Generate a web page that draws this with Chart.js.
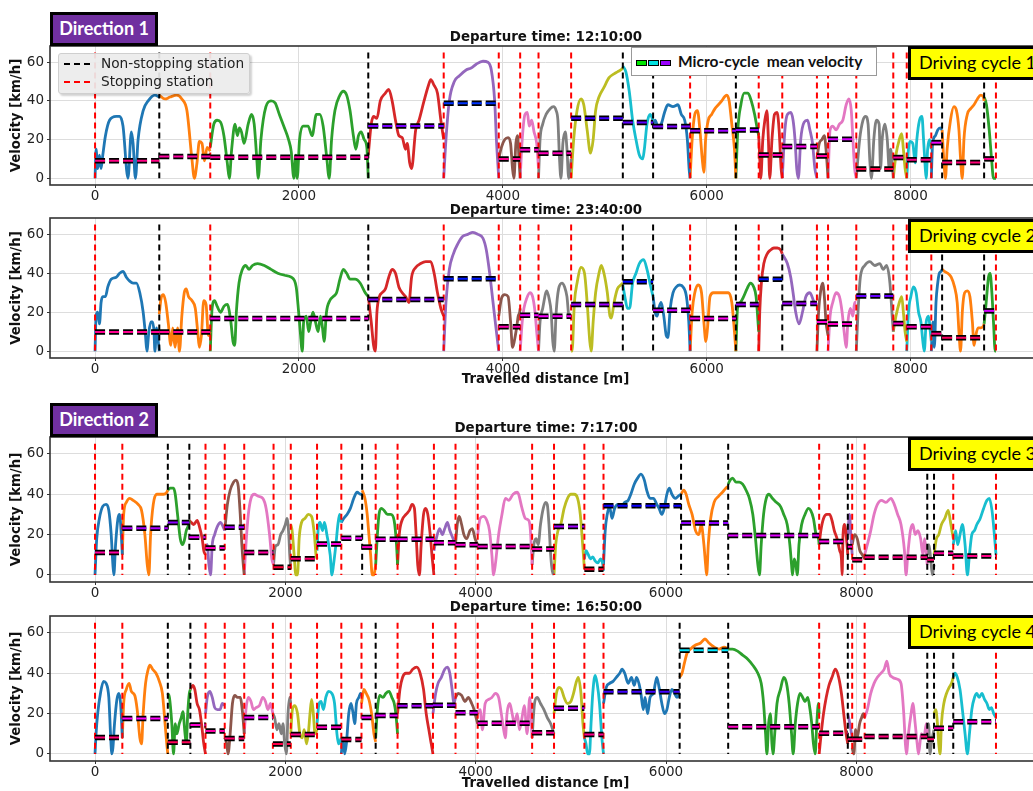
<!DOCTYPE html>
<html>
<head>
<meta charset="utf-8">
<script src="https://cdn.jsdelivr.net/npm/chart.js@4.4.1/dist/chart.umd.min.js"></script>
<style>
  html, body { margin: 0; padding: 0; background: #fff; width: 1033px; height: 791px; overflow: hidden; }
  .panel { position: absolute; left: 0; }
  .ttl { position: absolute; left: 346px; width: 400px; text-align: center; font: bold 13.4px "DejaVu Sans"; color: #111; line-height: 16px; }
  .dir { position: absolute; left: 50px; width: 108px; height: 34px; box-sizing: border-box; border: 3px solid #000;
         background: #7030a0; color: #fff; font: bold 18px Lato; text-align: center; line-height: 27px; }
  .dc { position: absolute; left: 908px; width: 150px; height: 34px; box-sizing: border-box; border: 3px solid #000;
        background: #ffff00; color: #000; font: 18px Lato; line-height: 27px; padding-left: 8px; }
  .leg1 { position: absolute; left: 58px; top: 53px; width: 192px; height: 41px; box-sizing: border-box;
          background: rgba(236,236,236,0.92); border: 1px solid #cfcfcf; border-radius: 3px; box-shadow: 2px 2px 2px rgba(0,0,0,0.18); }
  .leg1 svg { position: absolute; left: 3px; }
  .leg1 span { position: absolute; left: 42px; font: 13.7px "DejaVu Sans"; color: #222; line-height: 16px; }
  .leg2 { position: absolute; left: 631px; top: 47px; width: 246px; height: 29px; box-sizing: border-box;
          background: #fff; border: 1px solid #999; }
  .leg2 i { position: absolute; top: 12px; width: 9px; height: 4px; border: 1.5px solid #000; }
  .leg2 span { position: absolute; left: 46px; top: 4px; font: bold 15.5px Lato; color: #111; line-height: 18px; white-space: nowrap; }
</style>
</head>
<body>
<div class="panel" id="p1" style="top:40px"><canvas id="c1" width="1045" height="165"></canvas></div>
<div class="panel" id="p2" style="top:212px"><canvas id="c2" width="1045" height="178"></canvas></div>
<div class="panel" id="p3" style="top:430px"><canvas id="c3" width="1045" height="172"></canvas></div>
<div class="panel" id="p4" style="top:609px"><canvas id="c4" width="1045" height="185"></canvas></div>

<div class="ttl" style="top:29px">Departure time: 12:10:00</div>
<div class="ttl" style="top:202px">Departure time: 23:40:00</div>
<div class="ttl" style="top:420px">Departure time: 7:17:00</div>
<div class="ttl" style="top:599px">Departure time: 16:50:00</div>

<div class="dir" style="top:12px">Direction 1</div>
<div class="dir" style="top:403px">Direction 2</div>

<div class="dc" style="top:46px">Driving cycle 1</div>
<div class="dc" style="top:219px">Driving cycle 2</div>
<div class="dc" style="top:437px">Driving cycle 3</div>
<div class="dc" style="top:615px">Driving cycle 4</div>

<div class="leg1">
  <svg width="34" height="40" style="top:0">
    <line x1="2" y1="10" x2="31" y2="10" stroke="#000" stroke-width="2" stroke-dasharray="6,4"/>
    <line x1="2" y1="28" x2="31" y2="28" stroke="#ff0000" stroke-width="2" stroke-dasharray="6,4"/>
  </svg>
  <span style="top:1px">Non-stopping station</span>
  <span style="top:19px">Stopping station</span>
</div>
<div class="leg2">
  <i style="left:4px;background:#00e600"></i>
  <i style="left:16px;background:#00e0e0"></i>
  <i style="left:28px;background:#9a00ff"></i>
  <span>Micro-cycle&nbsp; mean velocity</span>
</div>

<script>
// axis ticks
const xTicks = [0, 2000, 4000, 6000, 8000];
const yTicks = [0, 20, 40, 60];

// ---------- Driving cycle 1 (Direction 1, 12:10:00) ----------
const stations1 = [0, 630, 1130, 2680, 3420, 3960, 4170, 4350, 4670, 5177, 5474, 5837, 6286, 6510, 6741, 7081, 7190, 7467, 7830, 7962, 8203, 8309, 8721, 8837];
const stationTypes1 = ['S','N','S','N','S','S','S','S','S','N','N','S','N','S','S','S','S','S','S','S','S','N','N','S'];
const means1 = [9.1, 11.2, 10.9, 27, 38.8, 10, 14.7, 12.9, 31, 28.8, 26.7, 24.5, 25, 12, 16.4, 11.5, 20.2, 4.8, 10.7, 9.5, 18.4, 8.1, 10];
const speed1 = [
  [[0,0],[10,15],[26,5],[43,12],[59,5],[76,12],[102,22],[142,30],[208,32],[241,32],[274,27],[323,0],[356,24],[373,18],[396,0],[422,20],[472,35],[521,40],[587,43],[630,42]],
  [[630,43],[686,41],[736,42],[802,43],[851,41],[901,35],[950,10],[974,0],[1000,8],[1023,19],[1049,18],[1073,9],[1099,16],[1130,14]],
  [[1130,16],[1165,28],[1198,30],[1231,29],[1264,22],[1297,8],[1317,0],[1340,15],[1373,28],[1396,22],[1416,26],[1436,24],[1462,18],[1502,28],[1535,33],[1561,28],[1584,12],[1601,0],[1627,20],[1676,37],[1726,40],[1766,39],[1808,33],[1858,26],[1898,20],[1924,14],[1950,0],[1970,12],[1983,0],[2006,20],[2039,27],[2089,27],[2129,22],[2171,33],[2204,33],[2237,27],[2270,12],[2297,0],[2320,20],[2353,35],[2402,43],[2435,45],[2468,43],[2501,35],[2534,22],[2558,15],[2584,22],[2610,24],[2640,20],[2666,16],[2680,0]],
  [[2680,12],[2709,28],[2732,32],[2765,31],[2798,40],[2848,44],[2881,46],[2914,40],[2947,30],[2980,22],[3013,21],[3046,15],[3062,18],[3086,8],[3105,5],[3145,25],[3178,30],[3227,40],[3270,48],[3293,51],[3326,48],[3359,44],[3392,30],[3420,20]],
  [[3420,0],[3442,20],[3475,40],[3524,50],[3574,53],[3640,56],[3689,57],[3739,59],[3805,60.5],[3854,60],[3887,56],[3920,40],[3937,20],[3960,0]],
  [[3960,10],[3986,16],[4019,20],[4052,21],[4076,18],[4095,5],[4109,0],[4128,18],[4145,22],[4158,10],[4170,0]],
  [[4170,0],[4190,20],[4217,33],[4240,34],[4259,27],[4283,30],[4306,24],[4332,18],[4350,5]],
  [[4350,0],[4365,20],[4391,28],[4424,33],[4464,36],[4497,37],[4523,35],[4540,30],[4556,10],[4570,0],[4589,18],[4613,24],[4629,15],[4646,0],[4670,10]],
  [[4670,0],[4695,20],[4728,35],[4768,41],[4794,38],[4827,25],[4860,13],[4886,20],[4910,35],[4943,42],[4992,47],[5042,52],[5091,54],[5124,55],[5157,56],[5177,57]],
  [[5177,58],[5207,55],[5240,45],[5273,30],[5306,20],[5339,12],[5372,10],[5388,15],[5414,28],[5444,33],[5474,30]],
  [[5474,28],[5494,30],[5520,27],[5553,28],[5586,34],[5619,38],[5669,37],[5718,38],[5751,33],[5784,30],[5810,20],[5827,5],[5837,0]],
  [[5837,0],[5857,20],[5883,33],[5909,35],[5933,25],[5956,10],[5972,3],[5989,20],[6015,30],[6048,33],[6081,36],[6114,38],[6147,40],[6173,42],[6197,43],[6220,40],[6246,28],[6272,15],[6286,0]],
  [[6286,0],[6305,25],[6335,38],[6368,44],[6404,44],[6437,40],[6470,33],[6494,26],[6510,22]],
  [[6510,22],[6522,8],[6530,0],[6550,20],[6570,30],[6590,35],[6605,20],[6618,0],[6640,20],[6665,33],[6690,34],[6710,25],[6730,5],[6741,0]],
  [[6741,0],[6767,25],[6791,33],[6824,34],[6847,30],[6866,20],[6883,5],[6899,0],[6922,20],[6956,29],[6989,30],[7012,25],[7038,18],[7061,5],[7081,0]],
  [[7081,10],[7104,18],[7130,20],[7154,22],[7170,15],[7190,0]],
  [[7190,0],[7210,25],[7236,27],[7269,25],[7302,28],[7335,30],[7368,38],[7394,41],[7418,35],[7434,20],[7451,5],[7467,0]],
  [[7467,0],[7500,20],[7533,30],[7559,32],[7583,28],[7599,10],[7616,0],[7639,20],[7665,30],[7691,28],[7705,5],[7721,20],[7748,28],[7771,20],[7790,5],[7804,15],[7823,5],[7830,0]],
  [[7830,0],[7856,12],[7889,20],[7913,23],[7929,15],[7946,5],[7962,0]],
  [[7962,0],[7979,15],[7995,19],[8021,18],[8045,8],[8061,20],[8087,30],[8111,32],[8127,20],[8144,5],[8153,0],[8167,15],[8186,20],[8203,15]],
  [[8203,0],[8216,18],[8243,22],[8266,25],[8292,26],[8309,25]],
  [[8309,25],[8325,10],[8342,0],[8358,15],[8391,30],[8424,37],[8450,35],[8474,25],[8490,10],[8507,0],[8523,20],[8556,33],[8589,36],[8622,38],[8655,41],[8688,43],[8714,42],[8721,40]],
  [[8721,42],[8744,38],[8771,25],[8794,10],[8813,0],[8837,0]]
];

// ---------- Driving cycle 2 (Direction 1, 23:40:00) ----------
const stations2 = [0, 630, 1130, 2680, 3420, 3960, 4170, 4350, 4670, 5177, 5474, 5837, 6286, 6510, 6741, 7081, 7190, 7467, 7830, 7962, 8203, 8309, 8721, 8837];
const stationTypes2 = ['S','N','S','N','S','S','S','S','S','N','N','S','N','S','N','S','S','S','S','S','S','N','N','S'];
const means2 = [9.9, 9.9, 16.8, 26.6, 37.2, 12.5, 18.5, 18, 24, 35.7, 21, 16.8, 24, 36.9, 24.5, 15, 13.9, 28.3, 14.2, 12.5, 9, 6.9, 20.7];
const speed2 = [
  [[0,0],[10,18],[26,20],[43,14],[59,25],[76,28],[102,28],[125,33],[158,37],[208,38],[241,40],[274,41],[307,38],[340,36],[373,35],[406,35],[439,30],[472,20],[495,8],[508,0],[528,10],[548,15],[564,15],[578,10],[587,0],[604,12],[620,5],[630,0]],
  [[630,19],[647,27],[670,29],[693,25],[719,14],[743,3],[762,12],[785,2],[809,12],[828,0],[851,18],[875,30],[894,32],[917,28],[950,26],[983,22],[1007,10],[1023,2],[1043,8],[1066,26],[1089,24],[1112,8],[1130,10]],
  [[1130,0],[1148,22],[1172,26],[1198,23],[1231,20],[1264,23],[1297,24],[1330,16],[1353,5],[1370,3],[1386,20],[1412,35],[1445,42],[1478,44],[1511,42],[1544,44],[1594,45],[1660,44],[1726,42],[1792,40],[1858,39],[1924,38],[1973,33],[1997,20],[2013,10],[2033,0],[2046,15],[2072,18],[2096,10],[2115,15],[2138,20],[2162,15],[2188,10],[2211,18],[2231,12],[2247,5],[2270,20],[2303,26],[2336,28],[2369,30],[2402,37],[2435,42],[2468,40],[2501,37],[2551,37],[2600,35],[2650,30],[2680,28]],
  [[2680,28],[2709,15],[2732,3],[2749,0],[2765,20],[2789,28],[2815,30],[2848,32],[2881,38],[2914,42],[2947,40],[2980,33],[3013,30],[3046,28],[3079,25],[3105,38],[3145,43],[3194,45],[3244,46],[3293,46],[3326,40],[3359,30],[3392,22],[3420,18]],
  [[3420,0],[3442,25],[3475,42],[3515,50],[3557,55],[3607,59],[3656,60],[3706,61],[3755,60],[3805,58],[3838,52],[3871,40],[3904,25],[3937,10],[3960,0]],
  [[3960,18],[3986,27],[4019,29],[4052,28],[4076,15],[4095,2],[4112,5],[4135,12],[4151,18],[4165,20],[4170,22]],
  [[4170,0],[4190,15],[4207,22],[4233,27],[4266,30],[4292,28],[4316,20],[4332,10],[4350,0]],
  [[4350,0],[4365,15],[4391,22],[4431,31],[4454,27],[4474,20],[4490,5],[4504,0],[4523,20],[4547,32],[4580,35],[4606,33],[4629,28],[4649,18],[4670,19]],
  [[4670,0],[4679,0],[4702,25],[4728,35],[4768,43],[4801,40],[4827,25],[4853,5],[4867,0],[4886,15],[4910,30],[4943,40],[4966,44],[4992,40],[5025,30],[5051,18],[5065,17],[5091,25],[5124,32],[5157,34],[5177,35]],
  [[5177,34],[5197,28],[5223,22],[5243,22],[5273,35],[5306,40],[5339,45],[5381,47],[5414,42],[5447,34],[5474,28]],
  [[5474,28],[5494,20],[5513,18],[5530,22],[5553,25],[5579,18],[5603,8],[5619,7],[5642,22],[5669,30],[5702,33],[5735,34],[5768,33],[5801,28],[5824,15],[5837,0]],
  [[5837,0],[5857,20],[5883,30],[5916,34],[5949,30],[5972,15],[5992,5],[6008,12],[6032,28],[6065,30],[6114,30],[6164,30],[6213,30],[6246,25],[6272,10],[6286,0]],
  [[6286,0],[6302,22],[6329,25],[6362,28],[6395,32],[6428,35],[6461,33],[6484,28],[6510,10]],
  [[6510,0],[6520,20],[6536,35],[6560,45],[6593,50],[6626,52],[6659,53],[6692,53],[6725,52],[6741,50]],
  [[6741,50],[6791,45],[6824,38],[6847,30],[6873,20],[6906,14],[6939,20],[6972,28],[7012,30],[7055,25],[7081,24]],
  [[7081,0],[7097,20],[7121,32],[7137,35],[7154,28],[7170,15],[7190,8]],
  [[7190,0],[7210,18],[7236,25],[7269,30],[7302,28],[7328,20],[7352,8],[7368,2],[7385,15],[7408,22],[7434,18],[7451,25],[7467,25]],
  [[7467,0],[7484,20],[7507,38],[7550,44],[7599,46],[7649,44],[7698,45],[7731,42],[7764,44],[7797,35],[7823,15],[7830,10]],
  [[7830,10],[7856,18],[7889,25],[7913,28],[7929,20],[7946,10],[7962,5]],
  [[7962,0],[7979,20],[8002,28],[8028,33],[8054,30],[8078,20],[8101,15],[8120,5],[8134,0],[8153,15],[8177,18],[8193,10],[8203,5]],
  [[8203,0],[8219,15],[8233,2],[8249,25],[8266,35],[8282,40],[8299,41],[8309,42]],
  [[8309,42],[8332,41],[8365,40],[8398,38],[8431,33],[8457,25],[8474,10],[8490,0],[8507,20],[8530,30],[8556,31],[8582,28],[8606,15],[8622,3],[8639,8],[8662,12],[8688,12],[8714,13],[8721,14]],
  [[8721,14],[8741,25],[8764,38],[8780,40],[8797,30],[8813,15],[8830,0],[8837,0]]
];

// ---------- Driving cycle 3 (Direction 2, 7:17:00) ----------
const stations3 = [0, 287, 765, 991, 1161, 1363, 1568, 1876, 2057, 2333, 2588, 2807, 2949, 3179, 3561, 3788, 4021, 4593, 4823, 5142, 5343, 6158, 6653, 7609, 7910, 7956, 8087, 8745, 8816, 9018, 9467];
const stationTypes3 = ['S','S','N','N','S','S','S','S','S','S','S','N','S','S','S','S','S','S','S','S','S','N','N','S','N','S','S','N','N','S','S'];
const means3 = [11.1, 23.2, 26, 18.7, 13.3, 23.7, 11.1, 3.8, 8, 15.4, 18.2, 13.8, 17.7, 17.7, 16, 15, 14.1, 12.9, 24, 2.8, 34.3, 25.7, 19.6, 16.6, 14, 7.5, 8.8, 7.5, 10.8, 9.4];
const speed3 = [
  [[0,0],[18,18],[46,28],[81,34],[117,35],[145,32],[170,20],[188,5],[198,0],[216,15],[241,28],[258,30],[276,20],[287,10]],
  [[287,10],[301,30],[329,36],[365,38],[400,37],[453,35],[489,32],[524,20],[549,5],[566,0],[584,20],[612,35],[648,40],[683,40],[719,40],[754,41],[765,42]],
  [[765,42],[789,43],[825,43],[843,40],[867,30],[896,18],[920,15],[938,17],[959,22],[984,25],[991,27]],
  [[991,27],[1012,26],[1037,25],[1073,27],[1097,24],[1126,18],[1143,12],[1161,10]],
  [[1161,12],[1179,15],[1197,5],[1214,0],[1232,15],[1257,20],[1285,24],[1320,26],[1345,24],[1363,22]],
  [[1363,22],[1391,35],[1420,42],[1455,46],[1480,47],[1505,44],[1526,30],[1543,15],[1558,5],[1568,0]],
  [[1568,0],[1586,15],[1611,30],[1639,38],[1674,40],[1717,39],[1763,38],[1798,33],[1834,20],[1858,8],[1876,5]],
  [[1876,5],[1894,14],[1922,15],[1951,20],[1975,22],[2000,25],[2018,28],[2036,20],[2046,10],[2057,3]],
  [[2057,25],[2071,22],[2092,10],[2110,0],[2128,0],[2145,18],[2170,26],[2205,28],[2241,30],[2276,29],[2305,20],[2322,10],[2333,8]],
  [[2333,12],[2347,24],[2365,26],[2390,22],[2411,26],[2436,20],[2471,10],[2489,0],[2506,5],[2531,15],[2552,25],[2570,30],[2588,26]],
  [[2588,26],[2613,28],[2648,30],[2683,33],[2719,38],[2754,41],[2790,40],[2807,40]],
  [[2807,42],[2836,38],[2860,30],[2878,20],[2896,10],[2913,0],[2931,0],[2949,5]],
  [[2949,5],[2967,20],[2984,30],[3009,33],[3037,32],[3073,30],[3108,30],[3143,27],[3168,15],[3179,5]],
  [[3179,5],[3197,20],[3225,27],[3267,30],[3303,32],[3331,35],[3356,33],[3374,20],[3391,5],[3409,0],[3427,15],[3452,30],[3473,33],[3497,30],[3522,20],[3544,8],[3561,0]],
  [[3561,12],[3586,18],[3621,23],[3650,20],[3675,23],[3703,26],[3728,22],[3763,18],[3788,15]],
  [[3788,15],[3806,25],[3827,29],[3852,25],[3876,20],[3905,18],[3940,22],[3965,23],[3993,18],[4021,15]],
  [[4021,20],[4046,28],[4082,29],[4117,27],[4145,22],[4170,10],[4188,0],[4206,5],[4241,20],[4276,30],[4312,38],[4347,37],[4393,40],[4436,41],[4451,40],[4487,33],[4522,28],[4558,27],[4575,22],[4593,5]],
  [[4593,5],[4611,15],[4635,18],[4657,15],[4681,25],[4710,33],[4735,36],[4752,35],[4770,25],[4788,10],[4805,2],[4823,0]],
  [[4823,0],[4841,15],[4865,22],[4894,25],[4929,33],[4965,38],[5000,40],[5035,40],[5071,38],[5099,30],[5124,15],[5142,3]],
  [[5142,8],[5159,12],[5184,10],[5205,8],[5230,9],[5255,7],[5283,6],[5312,8],[5336,5],[5343,2]],
  [[5343,5],[5361,22],[5382,30],[5407,34],[5432,28],[5460,33],[5496,35],[5531,34],[5566,36],[5602,37],[5630,40],[5666,45],[5701,48],[5736,50],[5772,47],[5797,42],[5832,38],[5867,38],[5903,35],[5927,33],[5956,30],[5981,33],[6009,40],[6034,43],[6062,40],[6097,38],[6126,39],[6158,40]],
  [[6158,40],[6186,42],[6211,40],[6239,35],[6274,30],[6310,22],[6345,20],[6370,25],[6398,15],[6416,5],[6427,0],[6444,15],[6469,28],[6505,36],[6551,39],[6593,41],[6628,43],[6653,44]],
  [[6653,45],[6674,47],[6699,48],[6735,46],[6770,46],[6805,45],[6841,42],[6876,38],[6912,30],[6940,18],[6965,5],[6982,0],[7000,15],[7025,30],[7053,38],[7082,40],[7117,38],[7159,36],[7202,34],[7237,30],[7273,25],[7301,15],[7319,5],[7329,0],[7347,8],[7365,5],[7379,0],[7397,15],[7425,25],[7460,30],[7496,33],[7520,32],[7549,28],[7577,20],[7602,18],[7609,15]],
  [[7609,15],[7627,22],[7655,28],[7690,30],[7719,30],[7744,27],[7768,22],[7797,18],[7825,12],[7843,8],[7850,0],[7860,20],[7878,25],[7896,18],[7910,10]],
  [[7910,20],[7928,30],[7942,20],[7956,10]],
  [[7956,15],[7981,20],[8009,18],[8037,12],[8062,10],[8087,8]],
  [[8087,10],[8115,15],[8151,22],[8186,30],[8221,35],[8264,37],[8310,36],[8363,38],[8398,35],[8434,30],[8469,25],[8505,12],[8522,0],[8540,10],[8568,22],[8593,25],[8618,20],[8646,22],[8675,18],[8699,10],[8717,18],[8735,10],[8745,5]],
  [[8745,10],[8763,15],[8781,8],[8798,0],[8816,5]],
  [[8816,10],[8841,18],[8866,20],[8894,25],[8929,28],[8965,32],[8993,25],[9018,18]],
  [[9018,15],[9043,22],[9064,15],[9089,20],[9114,25],[9142,15],[9167,0],[9188,10],[9213,20],[9241,22],[9266,25],[9301,28],[9337,33],[9372,37],[9397,38],[9425,32],[9450,20],[9467,10]]
];

// ---------- Driving cycle 4 (Direction 2, 16:50:00) ----------
const stations4 = [0, 287, 765, 1002, 1161, 1363, 1568, 1869, 2057, 2333, 2588, 2800, 2949, 3179, 3551, 3788, 4021, 4593, 4823, 5142, 5343, 6143, 6653, 7609, 7910, 7956, 8087, 8745, 8816, 9018, 9467];
const stationTypes4 = ['S','S','N','N','S','S','S','S','S','S','S','S','N','S','S','S','S','S','S','S','S','N','N','S','N','S','S','N','N','N','S'];
const means4 = [8.2, 17.6, 5.8, 14.3, 11.4, 7.7, 18.1, 4.9, 9.7, 13.2, 7.1, 18.1, 19, 23.9, 24.2, 20.4, 15.2, 10.5, 22.6, 9.7, 30.8, 51.4, 13.5, 10.2, 7.3, 7.3, 8.6, 7.3, 12.7, 16];
const speed4 = [
  [[0,0],[11,10],[28,20],[57,30],[89,36],[117,35],[145,28],[163,10],[177,0],[188,3],[205,15],[230,27],[251,30],[269,25],[287,8]],
  [[287,8],[301,25],[329,32],[358,35],[382,31],[418,29],[443,22],[471,8],[489,5],[506,20],[531,35],[559,42],[577,44],[605,42],[641,40],[676,36],[708,30],[736,15],[754,5],[765,0]],
  [[765,30],[782,28],[807,15],[825,0],[843,15],[860,10],[885,15],[906,18],[924,21],[942,12],[959,5],[974,20],[991,30],[1002,32]],
  [[1002,32],[1027,34],[1048,32],[1073,25],[1097,22],[1119,15],[1143,5],[1161,0]],
  [[1161,20],[1179,28],[1207,31],[1232,28],[1257,23],[1285,22],[1313,22],[1338,25],[1363,24]],
  [[1363,8],[1384,5],[1398,0],[1420,10],[1444,25],[1469,29],[1497,28],[1526,28],[1551,20],[1568,10]],
  [[1568,10],[1586,22],[1611,28],[1639,26],[1664,22],[1692,23],[1728,24],[1763,28],[1791,26],[1816,22],[1844,25],[1869,20]],
  [[1869,20],[1887,18],[1912,12],[1933,15],[1958,10],[1975,15],[1993,5],[2011,0],[2028,20],[2046,28],[2057,25]],
  [[2057,10],[2074,22],[2099,24],[2128,20],[2152,10],[2177,8],[2198,12],[2223,5],[2241,10],[2259,20],[2276,27],[2294,20],[2312,10],[2333,12]],
  [[2333,15],[2354,25],[2375,26],[2400,22],[2425,28],[2453,31],[2489,30],[2517,25],[2542,10],[2559,5],[2588,8]],
  [[2588,0],[2605,8],[2623,0],[2641,5],[2666,20],[2690,25],[2712,20],[2729,15],[2747,25],[2772,28],[2790,30],[2800,30]],
  [[2800,25],[2825,32],[2850,30],[2878,27],[2906,20],[2931,10],[2949,6]],
  [[2949,8],[2967,22],[2991,29],[3027,28],[3055,30],[3090,31],[3119,28],[3144,25],[3161,20],[3179,10]],
  [[3179,20],[3204,32],[3232,38],[3267,40],[3303,40],[3338,42],[3381,43],[3416,40],[3452,32],[3480,20],[3508,12],[3533,5],[3551,0]],
  [[3551,20],[3579,30],[3604,35],[3639,38],[3675,42],[3703,43],[3728,40],[3752,32],[3770,25],[3788,28]],
  [[3788,28],[3816,30],[3852,29],[3887,26],[3922,28],[3958,25],[3983,22],[4004,18],[4021,15]],
  [[4021,20],[4046,22],[4071,12],[4099,25],[4135,27],[4170,28],[4206,30],[4241,28],[4269,20],[4294,12],[4312,8],[4329,20],[4358,25],[4383,20],[4407,15],[4436,20],[4460,12],[4487,18],[4511,24],[4540,10],[4568,28],[4593,8]],
  [[4593,8],[4618,25],[4646,28],[4681,25],[4717,22],[4752,18],[4788,15],[4823,10]],
  [[4823,20],[4848,30],[4876,33],[4901,32],[4929,28],[4965,25],[5000,26],[5028,30],[5053,35],[5078,38],[5106,30],[5127,15],[5142,8]],
  [[5142,8],[5159,5],[5177,0],[5195,0],[5212,15],[5230,30],[5255,39],[5276,35],[5301,25],[5326,8],[5343,0]],
  [[5343,25],[5372,33],[5407,35],[5443,36],[5478,38],[5513,40],[5538,42],[5566,40],[5602,35],[5637,38],[5666,34],[5690,38],[5715,35],[5736,30],[5761,22],[5779,28],[5807,20],[5832,28],[5867,30],[5903,38],[5927,33],[5956,25],[5984,20],[6009,22],[6034,28],[6062,32],[6090,30],[6115,28],[6143,30]],
  [[6143,38],[6168,40],[6193,45],[6221,50],[6257,52],[6310,54],[6363,55],[6409,57],[6451,55],[6505,53],[6558,52],[6611,53],[6653,52]],
  [[6653,52],[6699,52],[6752,51],[6805,49],[6859,47],[6912,44],[6965,40],[7000,35],[7025,25],[7046,10],[7060,0],[7078,15],[7096,20],[7113,5],[7124,0],[7142,10],[7166,25],[7202,32],[7237,38],[7266,35],[7294,25],[7319,10],[7336,0],[7358,15],[7382,25],[7407,30],[7436,28],[7460,26],[7489,28],[7513,22],[7531,15],[7549,5],[7567,0],[7584,15],[7602,25],[7609,20]],
  [[7609,0],[7630,10],[7655,20],[7683,28],[7712,34],[7744,38],[7779,42],[7814,38],[7843,30],[7867,20],[7892,10],[7910,5]],
  [[7910,20],[7931,15],[7956,8]],
  [[7956,3],[7974,0],[7991,12],[8009,8],[8034,15],[8055,18],[8073,20],[8087,18]],
  [[8087,18],[8115,22],[8151,30],[8186,35],[8221,38],[8257,40],[8292,42],[8321,46],[8345,40],[8381,38],[8434,37],[8469,35],[8498,20],[8515,5],[8526,0],[8547,10],[8575,20],[8593,25],[8618,15],[8639,5],[8653,0],[8682,10],[8710,8],[8735,15],[8745,10]],
  [[8745,10],[8759,15],[8774,0],[8788,5],[8806,10],[8816,12]],
  [[8816,20],[8834,22],[8852,15],[8866,5],[8880,0],[8894,15],[8919,25],[8947,30],[8975,33],[9000,35],[9018,38]],
  [[9018,38],[9036,40],[9060,38],[9089,32],[9114,22],[9142,10],[9167,0],[9188,10],[9213,22],[9241,28],[9266,30],[9290,28],[9319,30],[9347,27],[9372,25],[9397,22],[9418,23],[9443,20],[9467,18]]
];

const TAB10 = ['#1f77b4', '#ff7f0e', '#2ca02c', '#d62728', '#9467bd',
               '#8c564b', '#e377c2', '#7f7f7f', '#bcbd22', '#17becf'];

// mean line colour runs red -> magenta -> blue -> cyan as the mean speed grows
function meanColor(v) {
  return 'hsl(' + (360 - 3.4 * v).toFixed(0) + ', 100%, 50%)';
}

function buildDatasets(stations, types, means, speed) {
  const sets = [];
  speed.forEach((seg, i) => {
    sets.push({
      data: seg.map(p => ({ x: p[0], y: p[1] })),
      borderColor: TAB10[i % 10],
      borderWidth: 2.8,
      pointRadius: 0,
      cubicInterpolationMode: 'monotone',
      order: 3
    });
  });
  ['S', 'N'].forEach(kind => {
    const pts = [];
    stations.forEach((s, i) => {
      if (types[i] === kind) pts.push({ x: s, y: 65 }, { x: s, y: 0 }, { x: s, y: null });
    });
    sets.push({
      data: pts,
      borderColor: kind === 'S' ? '#ff0000' : '#000000',
      borderWidth: 2,
      borderDash: [6, 4],
      pointRadius: 0,
      spanGaps: false,
      order: 2
    });
  });
  means.forEach((m, i) => {
    const pts = [{ x: stations[i], y: m }, { x: stations[i + 1], y: m }];
    sets.push({ data: pts, borderColor: '#000', borderWidth: 5.5, borderDash: [10, 4], pointRadius: 0, order: 1 });
    sets.push({ data: pts.map(p => ({ ...p })), borderColor: meanColor(m), borderWidth: 2, borderDash: [10, 4], pointRadius: 0, order: 0 });
  });
  return sets;
}

const framePlugin = {
  id: 'frame',
  afterDatasetsDraw(chart) {
    const a = chart.chartArea, ctx = chart.ctx;
    ctx.save();
    ctx.strokeStyle = '#333';
    ctx.lineWidth = 1.6;
    ctx.strokeRect(a.left, a.top, a.right - a.left, a.bottom - a.top);
    ctx.restore();
  }
};

function makeChart(id, stations, types, means, speed, xMin, xMax, padTop, xHeight, showXTitle) {
  const tickFont = { family: 'DejaVu Sans', size: 13.5 };
  const labelFont = { family: 'DejaVu Sans', size: 13.3, weight: 'bold' };
  return new Chart(document.getElementById(id), {
    type: 'line',
    data: { datasets: buildDatasets(stations, types, means, speed) },
    plugins: [framePlugin],
    options: {
      responsive: false,
      animation: false,
      devicePixelRatio: 1,
      layout: { autoPadding: false, padding: { top: padTop, right: 4, left: 0, bottom: 0 } },
      plugins: { legend: { display: false }, tooltip: { enabled: false } },
      scales: {
        x: {
          type: 'linear',
          min: xMin,
          max: xMax,
          afterBuildTicks: s => { s.ticks = xTicks.map(v => ({ value: v })); },
          afterFit: s => { s.height = xHeight; s.paddingLeft = 0; s.paddingRight = 0; },
          ticks: { font: tickFont, color: '#222', padding: 0, maxRotation: 0, callback: v => String(v) },
          grid: { color: '#dddddd', lineWidth: 1, tickLength: 3, tickColor: '#333' },
          border: { display: false },
          title: { display: showXTitle, text: 'Travelled distance [m]', font: labelFont, color: '#111', padding: { top: 0, bottom: 2 } }
        },
        y: {
          min: -3.5,
          max: 68.4,
          afterBuildTicks: s => { s.ticks = yTicks.map(v => ({ value: v })); },
          afterFit: s => { s.width = 50; s.paddingTop = 0; s.paddingBottom = 0; },
          ticks: { font: tickFont, color: '#222', padding: 3 },
          grid: { color: '#dddddd', lineWidth: 1, tickLength: 3, tickColor: '#333' },
          border: { display: false },
          title: { display: true, text: 'Velocity [km/h]', font: labelFont, color: '#111', padding: { top: 9, bottom: 0 } }
        }
      }
    }
  });
}

// x limits follow the 5 % margin around each route's length
makeChart('c1', stations1, stationTypes1, means1, speed1, -442, 9279, 6, 20, false);
makeChart('c2', stations2, stationTypes2, means2, speed2, -442, 9279, 6, 32, true);
makeChart('c3', stations3, stationTypes3, means3, speed3, -473, 9940, 7, 20, false);
makeChart('c4', stations4, stationTypes4, means4, speed4, -473, 9940, 7, 33, true);
</script>
</body>
</html>
